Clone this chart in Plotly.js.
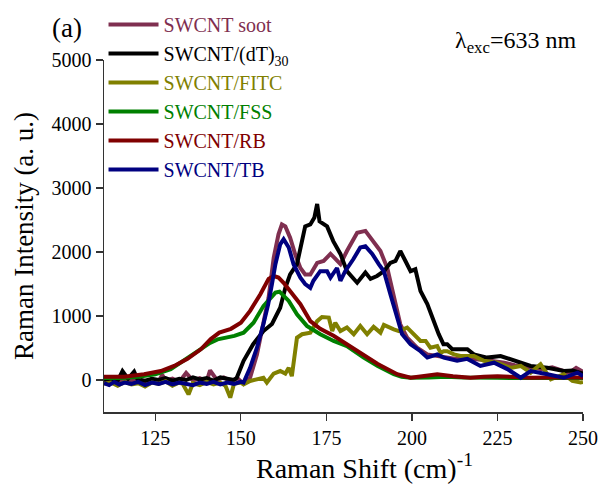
<!DOCTYPE html>
<html><head><meta charset="utf-8">
<script src="https://cdn.plot.ly/plotly-3.0.1.min.js"></script>
<style>body{margin:0;background:#fff}#chart{width:600px;height:484px}</style>
</head><body><div id="chart"></div>
<script>
// SWCNT soot
const sootX = [110,112,114,116,118,120,122,124,126,127,128,130,132,134,136,138,140,141,143,145,147,149,150.8,152.7,154.7,156.6,158.1,159.6,161,162,163,164.4,165.9,167.4,168.8,170.3,172.3,174.2,176.2,177.5,179.1,181,184,186.4,188.8,190.8,192.8,194.7,196.6,198.6,201.5,204.5,207,210,213,216,220,223,227,230,233,235,238,241,244,246,248,250];
const sootY = [-20,10,-30,20,-10,0,-30,10,-20,80,-10,20,-30,110,-10,30,-20,150,0,40,-20,30,-60,35,400,870,1285,1910,2275,2430,2400,2225,1960,1750,1650,1650,1830,1860,1970,1900,1810,2015,2300,2330,2170,2015,1750,1340,870,660,505,400,380,350,330,340,325,300,270,230,210,190,170,200,140,110,190,130];
// SWCNT/(dT)30
const dtX = [110,112,114,115.4,117,118.8,120,121,122,124,126,128,130,132,134,136,138,140,142,144,146,148,148.8,150.8,153.6,156.6,159.1,161.5,163,164.4,166.4,167.9,168.8,170.3,171.5,172.3,173,175.2,177,179.1,181,184,186.4,187.9,189.8,191.8,193.7,195.2,196.6,198.1,199.6,201,202.5,204.5,206.3,207.8,209.2,210.3,211.8,213.2,216.2,218.1,222,225.9,229.8,234.7,239.6,244.4,247,249.3,250];
const dtY = [0,20,-10,140,20,130,-10,0,-10,20,0,30,-10,20,0,40,10,30,-10,40,20,0,35,300,560,765,875,1130,1440,1650,1810,2170,2400,2430,2540,2750,2480,2400,2170,1970,1700,1520,1680,1580,1625,1700,1830,1860,2015,1860,1700,1730,1390,1185,920,720,560,560,480,480,480,400,350,375,300,220,190,140,150,115,100];
// SWCNT/FITC
const fitcX = [110,112,114,116,118,120,122,124,126,128,130,132,133,134.7,136,138,140,142,144,145.5,146.9,148,150,150.8,152.7,154.7,156.6,157.6,159.6,161.5,163,164,164.9,166.4,167.9,170.3,172.3,173.7,175.7,176.7,177.6,179.1,181,183,184.9,186.9,188.8,190.8,191.8,194.7,196.2,198.6,200.6,202.5,204,205.4,207.4,208.4,209.3,210.3,212.3,214.2,218.1,221,225,228.9,231.8,234.7,237.6,240.6,244.4,246.9,249.3,250];
const fitcY = [-60,-40,-90,-30,-70,-50,-100,-40,-60,-20,-90,-40,-60,-225,-50,-80,-30,-70,-40,-90,-275,-60,-40,-70,-15,10,35,-40,100,140,100,190,60,660,715,740,920,985,975,765,895,765,820,715,845,715,830,740,860,790,765,820,715,610,610,505,530,425,450,450,400,375,375,300,270,190,220,115,245,10,90,-15,-40,-30];
// SWCNT/FSS
const fssX = [110,115,120,125,129.5,132,135.4,137,139.3,141,143.2,146,148.1,150.8,153.7,156.6,158.6,160.1,161.3,162.5,164,166.4,169.3,173.2,177.1,181,185.9,190,194.7,197,199.6,205,210,215,220,225,230,235,240,245,250];
const fssY = [30,30,50,90,170,260,375,450,530,580,635,670,690,740,895,1155,1285,1365,1380,1310,1235,1025,845,715,610,530,350,220,90,50,35,40,50,40,30,35,30,30,30,35,30];
// SWCNT/RB
const rbX = [110,115.9,121.7,126.6,130.5,134.4,138.3,141.2,143.7,147.1,150,152.7,155.7,158.1,159.6,161,162.5,164.4,167.4,170.3,173.2,177.1,181,185.9,190,195.7,199.6,203,207.4,212,217.1,221,225,230,234.7,240,245,250];
const rbY = [50,50,90,140,220,330,480,640,740,800,895,1080,1340,1580,1625,1600,1520,1390,1185,920,800,690,560,400,250,90,35,60,90,60,35,50,60,45,35,40,45,40];
// SWCNT/TB
const tbX = [110,111.5,113,114.5,116,118,120,122,124,126,128,130,132,134,136,138,140,142,144,146,148,150,150.8,152.7,154.7,156.6,158,159.1,160.1,161.5,162.5,164,165.4,167.4,168.8,170.3,171.2,173.2,175.2,176.2,178.1,179.1,180.5,182.9,184.9,186.4,188.4,190.3,191.8,193.7,195.7,197.1,199.6,202.5,204.5,207.4,209.3,213.2,216.2,220,224,227.9,231.8,234.7,239.6,244.4,248.4,250];
const tbY = [-50,-80,-30,-70,-40,-60,-30,-80,-40,-60,-30,-70,-40,-60,-80,-40,-60,-30,-70,-40,-60,-30,-40,190,505,875,1185,1500,1810,2120,2200,2070,1810,1600,1500,1440,1550,1700,1700,1600,1750,1550,1700,1890,2070,2090,1970,1810,1700,1340,975,720,560,450,350,400,350,300,330,220,270,170,35,140,90,35,115,60];

const seriesNames = ['SWCNT soot','SWCNT/(dT)<sub>30</sub>','SWCNT/FITC','SWCNT/FSS','SWCNT/RB','SWCNT/TB'];
const seriesColors = ['#7f2f50','#000000','#808000','#008000','#800000','#000080'];
const xTicks = [125,150,175,200,225,250];
const yTicks = [0,1000,2000,3000,4000,5000];

const xs = [sootX,dtX,fitcX,fssX,rbX,tbX];
const ys = [sootY,dtY,fitcY,fssY,rbY,tbY];

const font = "'Liberation Serif'";
const traces = xs.map((x,i)=>({
  x: x, y: ys[i], type:'scatter', mode:'lines',
  name: '<span style="color:'+seriesColors[i]+'">'+seriesNames[i]+'</span>',
  line:{color:seriesColors[i], width:4}
}));

const layout = {
  width:600, height:484,
  margin:{l:104, r:17, t:60, b:72, autoexpand:false},
  paper_bgcolor:'#fff', plot_bgcolor:'#fff',
  font:{family:font, color:'#000', size:20},
  showlegend:true,
  legend:{x:-0.001, y:1.156, xanchor:'left', yanchor:'top', bgcolor:'rgba(0,0,0,0)', borderwidth:0,
          font:{family:font, size:20}, itemwidth:50, traceorder:'normal'},
  xaxis:{range:[110,250], tickvals:xTicks, ticktext:xTicks.map(String), showgrid:false, zeroline:false,
         showline:true, linecolor:'#333', linewidth:1.5, ticks:'outside', ticklen:7, tickcolor:'#333', tickwidth:1.2,
         tickfont:{family:font, size:20},
         title:{text:'&nbsp;&nbsp;&nbsp;&nbsp;&nbsp;&nbsp;Raman Shift (cm)<sup>-1</sup>', font:{family:font, size:28}, standoff:12}},
  yaxis:{range:[-500,5000], tickvals:yTicks, ticktext:yTicks.map(String), showgrid:false, zeroline:false,
         showline:true, linecolor:'#333', linewidth:1.5, ticks:'outside', ticklen:7, tickcolor:'#333', tickwidth:1.2,
         tickfont:{family:font, size:20},
         title:{text:'Raman Intensity (a. u.)', font:{family:font, size:27}, standoff:10}},
  annotations:[
    {xref:'paper', yref:'paper', x:-0.113, y:1.091, xanchor:'left', yanchor:'middle', showarrow:false,
     text:'(a)', font:{family:font, size:27}},
    {xref:'paper', yref:'paper', x:0.99, y:1.05, xanchor:'right', yanchor:'middle', showarrow:false,
     text:'λ<sub>exc</sub>=633 nm', font:{family:font, size:24}}
  ]
};
Plotly.newPlot('chart', traces, layout, {displayModeBar:false, staticPlot:true});
</script></body></html>
